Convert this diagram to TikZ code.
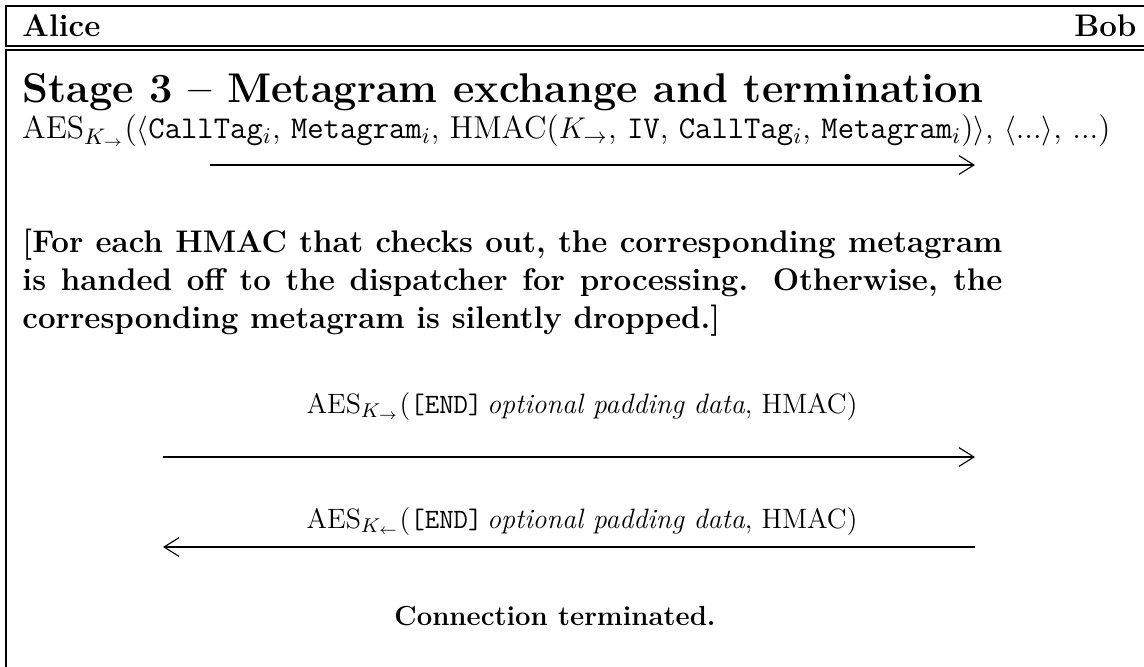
\documentclass[tikz,border=0pt]{standalone}
\usepackage{amsmath, amssymb}
\usetikzlibrary{arrows.meta}

\begin{document}
\begin{tikzpicture}[x=0.4pt, y=-0.4pt,
  every node/.style={inner sep=0pt},
  party/.style={font=\fontsize{12.5}{15}\selectfont\bfseries},
  stagetitle/.style={font=\fontsize{16.6}{19}\selectfont\bfseries},
  msg/.style={font=\fontsize{12.7}{15}\selectfont},
  endmsg/.style={font=\fontsize{11.2}{13}\selectfont},
  remark/.style={font=\fontsize{12.5}{15.2}\selectfont\bfseries, text width=392pt, align=justify},
  msgline/.style={line width=0.45pt, -{Straight Barb[length=6pt, width=7.5pt, line width=0.45pt]}},
  frame/.style={line width=0.8pt}]
\useasboundingbox (0,0) rectangle (1144,666);
\clip (0,0) rectangle (1144,666);

% header with the two parties
\draw[frame] (1160,6) -- (6,6) -- (6,46) -- (1160,46);
\node[party, anchor=base west] (alice) at (22,37) {Alice};
\node[party, anchor=base east] (bob) at (1137,37) {Bob};

% stage box
\draw[frame] (1160,50) -- (6,50) -- (6,680);
\node[stagetitle, anchor=base west] (title) at (22,103) {Stage 3 -- Metagram exchange and termination};

% first message: metagrams
\node[msg, anchor=base west] (m1) at (22,139) {AES$_{K_{\rightarrow}}$($\langle$\texttt{CallTag}$_i$, \texttt{Metagram}$_i$, HMAC($K_{\rightarrow}$, \texttt{IV}, \texttt{CallTag}$_i$, \texttt{Metagram}$_i$)$\rangle$, $\langle$...$\rangle$, ...)};
\coordinate (a1) at (210,165);
\coordinate (b1) at (975,165);
\draw[msgline] (a1) -- (b1);

%\node at (0,0)[circle,fill,inner sep=1pt]{};
\node[remark, anchor=north west] (check) at (22,229) {[For each HMAC that checks out, the corresponding metagram\linebreak is handed off to the dispatcher for processing. Otherwise, the\linebreak corresponding metagram is silently dropped.]};

% termination
\node[endmsg, anchor=base] (m2) at (582,413) {AES$_{K_{\rightarrow}}$(\texttt{[END]}\,\textit{optional padding data}, HMAC)};
\coordinate (a2) at (163,457);
\coordinate (b2) at (975,457);
\draw[msgline] (a2) -- (b2);

\node[endmsg, anchor=base] (m3) at (582,528) {AES$_{K_{\leftarrow}}$(\texttt{[END]}\,\textit{optional padding data}, HMAC)};
\coordinate (a3) at (163,547);
\coordinate (b3) at (975,547);
\draw[msgline] (b3) -- (a3);

\node[party, font=\fontsize{11}{13}\selectfont\bfseries, anchor=base] (done) at (555,625) {Connection terminated.};
\end{tikzpicture}
\end{document}
